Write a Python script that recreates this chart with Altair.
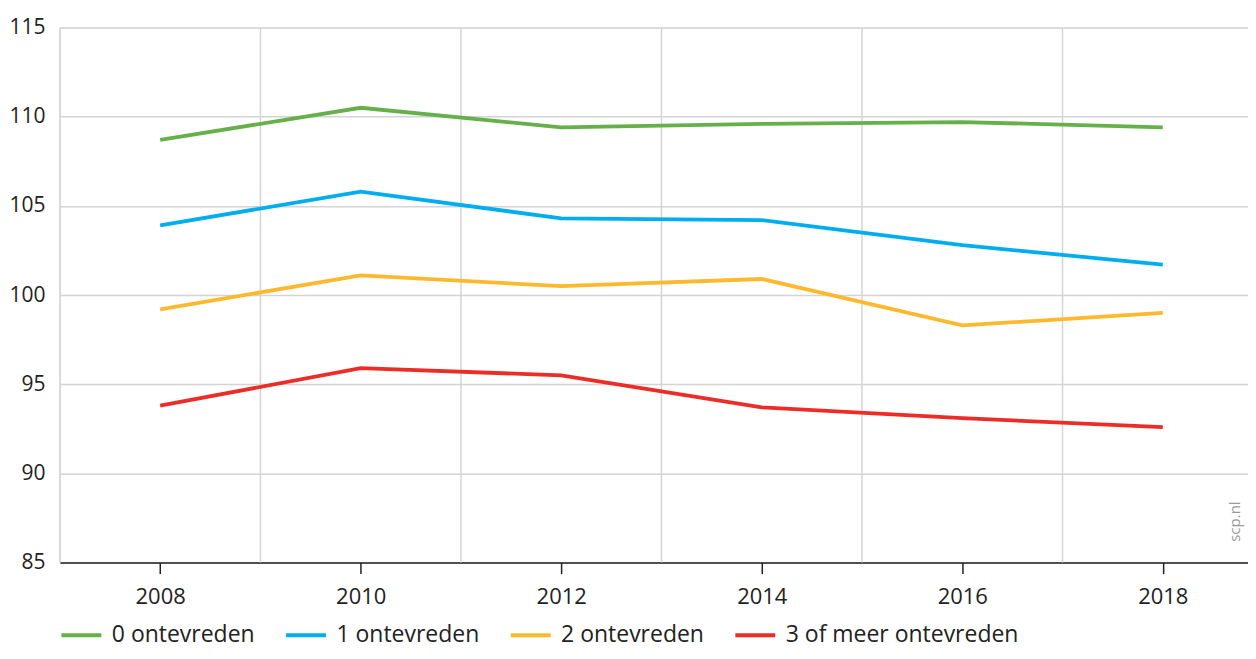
import altair as alt
import pandas as pd

years = [2008, 2010, 2012, 2014, 2016, 2018]
series_names = ["0 ontevreden", "1 ontevreden", "2 ontevreden", "3 of meer ontevreden"]
v0 = [108.7, 110.5, 109.4, 109.6, 109.7, 109.4]
v1 = [103.9, 105.8, 104.3, 104.2, 102.8, 101.7]
v2 = [99.2, 101.1, 100.5, 100.9, 98.3, 99.0]
v3 = [93.8, 95.9, 95.5, 93.7, 93.1, 92.6]
colors = ["#66b04a", "#00aeef", "#fdb92e", "#ec2d27"]
grid_years = [2007, 2009, 2011, 2013, 2015, 2017]
y_ticks = [85, 90, 95, 100, 105, 110, 115]
note_text = ["scp.nl"]
note_x = [2018.72]
note_y = [87.3]

rows = []
for name, vals in zip(series_names, [v0, v1, v2, v3]):
    for yr, v in zip(years, vals):
        rows.append({"jaar": yr, "waarde": v, "groep": name})
df = pd.DataFrame(rows)

FONT = "Open Sans"
x_scale = alt.Scale(domain=[2007, 2018.85], nice=False, zero=False)
y_scale = alt.Scale(domain=[85, 115], nice=False, zero=False)

grid = alt.Chart(pd.DataFrame({"jaar": grid_years})).mark_rule(
    color="#d4d4d4", strokeWidth=1.5
).encode(x=alt.X("jaar:Q", scale=x_scale))

lines = alt.Chart(df).mark_line(strokeWidth=3.8).encode(
    x=alt.X(
        "jaar:Q",
        scale=x_scale,
        axis=alt.Axis(
            values=years,
            format="d",
            title=None,
            grid=False,
            domainColor="#222222",
            domainWidth=1.5,
            tickColor="#222222",
            tickWidth=1.5,
            tickSize=11,
            labelFontSize=22,
            labelColor="#222222",
            labelFont=FONT,
            labelPadding=13,
        ),
    ),
    y=alt.Y(
        "waarde:Q",
        scale=y_scale,
        axis=alt.Axis(
            values=y_ticks,
            title=None,
            grid=True,
            gridColor="#d4d4d4",
            gridWidth=1.5,
            domain=False,
            ticks=False,
            labelFontSize=21,
            labelColor="#222222",
            labelFont=FONT,
            labelPadding=15,
        ),
    ),
    color=alt.Color(
        "groep:N",
        scale=alt.Scale(domain=series_names, range=colors),
        legend=alt.Legend(
            title=None,
            orient="none",
            legendX=10,
            legendY=597,
            direction="horizontal",
            symbolType="M-4,0H4",
            symbolSize=100,
            symbolStrokeWidth=4,
            labelFontSize=23,
            labelFont=FONT,
            labelColor="#222222",
            labelOffset=19,
            columnPadding=22,
            labelLimit=400,
            padding=0,
        ),
    ),
)

note = alt.Chart(pd.DataFrame({"t": note_text, "x": note_x, "y": note_y})).mark_text(
    angle=270, fontSize=15, color="#9a9a9a", font=FONT
).encode(x=alt.X("x:Q", scale=x_scale), y=alt.Y("y:Q", scale=y_scale), text="t:N")

chart = alt.layer(grid, lines, note).properties(
    width=1190,
    height=536,
    autosize=alt.AutoSizeParams(type="none"),
    padding={"left": 52, "top": 19, "right": 0, "bottom": 88},
).configure_view(stroke=None).configure(background="white")

chart.save("out.html", embed_options={"renderer": "svg", "actions": False})
